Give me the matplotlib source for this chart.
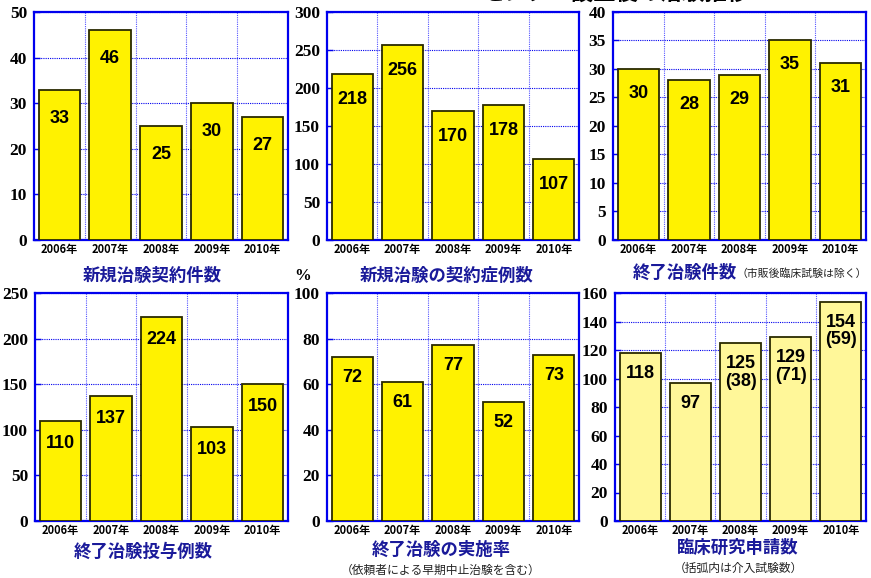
import matplotlib
matplotlib.use("Agg")
import matplotlib.pyplot as plt
from matplotlib.transforms import offset_copy

plt.rcParams['font.family'] = ['Noto Sans CJK JP', 'DejaVu Sans']

years = ["2006年", "2007年", "2008年", "2009年", "2010年"]

new_contracts = [33, 46, 25, 30, 27]
new_cases = [218, 256, 170, 178, 107]
finished_trials = [30, 28, 29, 35, 31]
finished_doses = [110, 137, 224, 103, 150]
completion_rate = [72, 61, 77, 52, 73]
clinical_research = [118, 97, 125, 129, 154]
interventional = [None, None, 38, 71, 59]

titles = ["新規治験契約件数", "新規治験の契約症例数", "終了治験件数",
          "終了治験投与例数", "終了治験の実施率", "臨床研究申請数"]
subtitles = [None, None, "（市販後臨床試験は除く）",
             None, "（依頼者による早期中止治験を含む）", "（括弧内は介入試験数）"]
ylims = [50, 300, 40, 250, 100, 160]
ysteps = [10, 50, 5, 50, 20, 20]

W, H = 871, 578
fig = plt.figure(figsize=(W / 100, H / 100), dpi=100)

# pixel boxes (left, right, top, bottom)
boxes = [(34, 288, 12, 240), (327, 579, 12, 240), (613, 866, 12, 240),
         (35, 288, 293, 521), (327, 579, 293, 521), (615, 866, 293, 521)]
label_off = [-20, -17, -16, -14, -12, -12]

YEL = '#FFF200'
LYEL = '#FFF799'
BLUE = '#0000EE'
NAVY = '#1a1a9a'

series = [new_contracts, new_cases, finished_trials, finished_doses,
          completion_rate, clinical_research]
colors = [YEL, YEL, YEL, YEL, YEL, LYEL]

for i, (vals, box) in enumerate(zip(series, boxes)):
    l, r, t, b = box
    ax = fig.add_axes([l / W, 1 - b / H, (r - l) / W, (b - t) / H])
    x = list(range(len(years)))
    ax.bar(x, vals, width=0.82, color=colors[i], edgecolor='#2a2a00',
           linewidth=1.3, zorder=3)
    ax.set_xlim(-0.5, 4.5)
    ax.set_ylim(0, ylims[i])
    ax.set_yticks(range(0, ylims[i] + 1, ysteps[i]))
    ax.set_yticklabels([str(v) for v in range(0, ylims[i] + 1, ysteps[i])],
                       family='Liberation Serif', fontweight='bold', fontsize=12.5)
    ax.set_xticks(x)
    ax.set_xticklabels(years, fontsize=8, fontweight='bold')
    ax.tick_params(axis='x', length=0, pad=2)
    ax.tick_params(axis='y', direction='in', length=4, color=BLUE, width=1, pad=5)
    for s in ax.spines.values():
        s.set_color(BLUE)
        s.set_linewidth(1.6)
    ax.yaxis.grid(True, color=BLUE, linestyle=(0, (1, 1)), linewidth=0.8, zorder=0)
    for xv in [0.5, 1.5, 2.5, 3.5]:
        ax.axvline(xv, color='#5555ff', linestyle=(0, (1, 1)), linewidth=0.8, zorder=0)
    ax.set_axisbelow(True)
    for j, v in enumerate(vals):
        txt = str(v)
        if i == 5 and interventional[j] is not None:
            txt = f"{v}\n({interventional[j]})"
        tr = offset_copy(ax.transData, fig=fig, y=label_off[i], units='dots')
        ax.text(j, v, txt, transform=tr, ha='center', va='top',
                fontsize=13, fontweight='bold', family='Liberation Sans',
                linespacing=1.05, zorder=5)

# titles
title_pos = [(152, 276), (447, 276), (686, 273), (143, 552), (441, 550), (738, 548)]
for i, (cx, cy) in enumerate(title_pos):
    if i == 2:
        fig.text(633 / W, 1 - cy / H, titles[i], ha='left', va='center',
                 fontsize=12.5, fontweight='bold', color=NAVY)
        fig.text(736 / W, 1 - (cy + 1) / H, subtitles[i], ha='left', va='center',
                 fontsize=7.8, color='#222222')
    else:
        fig.text(cx / W, 1 - cy / H, titles[i], ha='center', va='center',
                 fontsize=12.5, fontweight='bold', color=NAVY)
        if subtitles[i]:
            fig.text(cx / W, 1 - (cy + 20) / H, subtitles[i], ha='center',
                     va='center', fontsize=8.5, color='#222222')

fig.text(303 / W, 1 - 276 / H, "%", ha='center', va='center',
         family='Liberation Serif', fontweight='bold', fontsize=12)

# clipped main title at top
fig.text(483 / W, 1 + 7 / H, "センター設立後の治験推移", ha='left', va='center',
         fontsize=16, fontweight='bold', color='black')

fig.savefig("out.png", dpi=100)
